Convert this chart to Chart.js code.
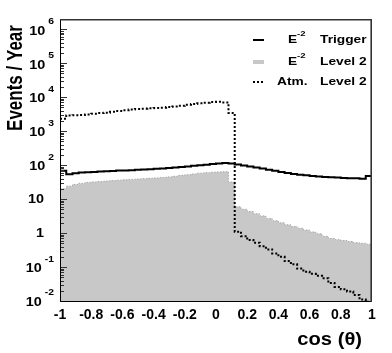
<!DOCTYPE html>
<html>
<head>
<meta charset="utf-8">
<script src="https://cdn.jsdelivr.net/npm/chart.js@4/dist/chart.umd.min.js"></script>
<style>
  html, body { margin: 0; padding: 0; background: #fff; }
  #wrap { width: 392px; height: 353px; }
</style>
</head>
<body>
<div id="wrap"><canvas id="chart" width="392" height="353"></canvas></div>
<script>
// histogram binning: 50 bins over cos(theta) in [-1, 1]
const BIN_LO = -1;
const BIN_W = 0.04;

// E^-2 trigger level (solid black)
const trigger = [68, 54, 58, 61, 62, 63, 65, 66, 67, 69,
                 70, 71, 73, 74, 76, 78, 80, 82, 85, 88,
                 91, 95, 99, 103, 107, 111, 115, 111, 105, 98,
                 91, 85, 79, 73, 68, 63, 59, 55, 52, 50,
                 48, 46, 45, 44, 43, 42, 41, 41, 40, 48];

// E^-2 level 2 (grey fill)
const level2 = [20, 24, 27, 29, 31, 32, 33, 34, 35, 36,
                37, 38, 39, 40, 41, 42, 43, 45, 47, 50,
                52, 55, 58, 60, 62, 63, 64, 32, 5.9, 5.0,
                4.3, 3.7, 3.2, 2.7, 2.3, 2.0, 1.75, 1.55, 1.38, 1.23,
                1.08, 0.95, 0.8, 0.69, 0.64, 0.6, 0.56, 0.52, 0.5, 0.47];

// atmospheric level 2 (dotted black)
const atm = [2300, 2900, 2950, 3000, 3100, 3250, 3400, 3500, 3700, 3900,
             4100, 4300, 4500, 4600, 4700, 4800, 4900, 5100, 5300, 5600,
             6000, 6300, 6600, 6900, 7200, 7300, 7000, 3400, 1.1, 0.81,
             0.62, 0.52, 0.41, 0.33, 0.25, 0.2, 0.15, 0.12, 0.09, 0.073,
             0.063, 0.055, 0.047, 0.034, 0.026, 0.022, 0.019, 0.015, 0.011, 0.0095];

const yExponents = [-2, -1, 0, 1, 2, 3, 4, 5, 6];

const FONT = "'Liberation Sans', Arial, Helvetica, sans-serif";

function histPoints(vals) {
  const pts = vals.map((v, i) => ({ x: BIN_LO + i * BIN_W, y: v }));
  pts.push({ x: BIN_LO + vals.length * BIN_W, y: vals[vals.length - 1] });
  return pts;
}

// text with horizontal stretch (the reference is a bit wide)
function stretchText(ctx, str, x, y, size, align, sx) {
  ctx.save();
  ctx.font = `bold ${size}px ${FONT}`;
  const w = ctx.measureText(str).width * sx;
  let left = x;
  if (align === "right") left = x - w;
  else if (align === "center") left = x - w / 2;
  ctx.translate(left, y);
  ctx.scale(sx, 1);
  ctx.textAlign = "left";
  ctx.textBaseline = "middle";
  ctx.fillText(str, 0, 0);
  ctx.restore();
  return w;
}

const decorations = {
  id: "decorations",
  afterDatasetsDraw(chart) {
    const { ctx, chartArea: a } = chart;
    const ys = chart.scales.y;
    ctx.save();
    ctx.fillStyle = "#000";

    // y ticks inside the frame
    ctx.strokeStyle = "#333";
    ctx.lineWidth = 1;
    yExponents.forEach((e) => {
      for (let m = 1; m <= 9; m++) {
        const v = m * Math.pow(10, e);
        if (v < ys.min || v > ys.max) continue;
        const py = Math.round(ys.getPixelForValue(v)) + 0.5;
        ctx.beginPath();
        ctx.moveTo(a.left, py);
        ctx.lineTo(a.left + (m === 1 ? 7 : 4), py);
        ctx.stroke();
      }
    });

    // frame
    ctx.strokeStyle = "#000";
    ctx.lineWidth = 1;
    ctx.beginPath();
    ctx.moveTo(a.left + 0.5, a.top);
    ctx.lineTo(a.left + 0.5, a.bottom + 0.5);
    ctx.lineTo(a.right, a.bottom + 0.5);
    ctx.stroke();
    ctx.strokeStyle = "#333";
    ctx.lineWidth = 1.6;
    ctx.beginPath();
    ctx.moveTo(a.left, a.top + 0.8);
    ctx.lineTo(a.right - 0.8, a.top + 0.8);
    ctx.lineTo(a.right - 0.8, a.bottom + 1);
    ctx.stroke();

    // y tick labels 10^n
    yExponents.forEach((e) => {
      const py = ys.getPixelForValue(Math.pow(10, e));
      if (e === 0 || e === 1) {
        stretchText(ctx, e === 0 ? "1" : "10", 44, py + 1, 12, "right", 1.2);
        return;
      }
      const ex = String(e);
      ctx.font = `bold 9px ${FONT}`;
      const ew = ctx.measureText(ex).width * 1.15;
      stretchText(ctx, ex, 54, py - 8, 9, "right", 1.15);
      stretchText(ctx, "10", 54 - ew - 3, py + 2, 12, "right", 1.2);
    });

    // axis titles
    ctx.save();
    ctx.translate(16, 78);
    ctx.scale(1.25, 1);
    ctx.rotate(-Math.PI / 2);
    ctx.font = `bold 17px ${FONT}`;
    ctx.textAlign = "center";
    ctx.textBaseline = "middle";
    ctx.fillText("Events / Year", 0, 0);
    ctx.restore();

    stretchText(ctx, "cos (\u03B8)", 362, 340, 18, "right", 1.12);

    // legend
    ctx.strokeStyle = "#000";
    ctx.lineWidth = 2;
    ctx.beginPath();
    ctx.moveTo(253, 40);
    ctx.lineTo(264, 40);
    ctx.stroke();
    ctx.fillStyle = "#c8c8c8";
    ctx.fillRect(253, 60, 11, 4);
    ctx.fillStyle = "#000";
    [254, 258, 262].forEach((dx) => ctx.fillRect(dx - 1, 81, 2, 2));

    const rows = [
      { y: 40, left: null, right: "Trigger" },
      { y: 62, left: null, right: "Level 2" },
      { y: 82, left: "Atm.", right: "Level 2" },
    ];
    rows.forEach((r) => {
      if (r.left) {
        stretchText(ctx, r.left, 277, r.y, 11, "left", 1.25);
      } else {
        stretchText(ctx, "E", 288, r.y, 11, "left", 1.25);
        stretchText(ctx, "-2", 297, r.y - 6, 8, "left", 1.2);
      }
      stretchText(ctx, r.right, 320, r.y, 11, "left", 1.25);
    });

    ctx.restore();
  },
};

new Chart(document.getElementById("chart"), {
  type: "line",
  data: {
    datasets: [
      {
        label: "E-2 Level 2",
        data: histPoints(level2),
        stepped: true,
        fill: "start",
        backgroundColor: "#c8c8c8",
        borderColor: "#a8a8a8",
        borderWidth: 1,
        borderDash: [1.5, 1.5],
        pointRadius: 0,
        order: 3,
      },
      {
        label: "E-2 Trigger",
        data: histPoints(trigger),
        stepped: true,
        fill: false,
        borderColor: "#000",
        borderWidth: 2,
        pointRadius: 0,
        order: 2,
      },
      {
        label: "Atm. Level 2",
        data: histPoints(atm),
        stepped: true,
        fill: false,
        borderColor: "#000",
        borderWidth: 2,
        borderDash: [2, 2],
        pointRadius: 0,
        order: 1,
      },
    ],
  },
  options: {
    responsive: false,
    animation: false,
    devicePixelRatio: 1,
    parsing: true,
    layout: { padding: { top: 19, right: 20, left: 0, bottom: 0 } },
    plugins: { legend: { display: false }, tooltip: { enabled: false } },
    scales: {
      x: {
        type: "linear",
        min: -1,
        max: 1,
        afterFit: (s) => { s.height = 52; },
        grid: { display: false, drawTicks: false },
        border: { display: false },
        ticks: {
          stepSize: 0.2,
          autoSkip: false,
          maxRotation: 0,
          padding: 6,
          color: "#000",
          font: { family: FONT, size: 14, weight: "bold" },
          callback: (v) => {
            const r = Math.round(v * 10) / 10;
            return r === 0 ? "0" : String(r);
          },
        },
      },
      y: {
        type: "logarithmic",
        min: 0.01,
        max: 2e6,
        afterFit: (s) => { s.width = 60; },
        grid: { display: false },
        border: { display: false },
        ticks: { display: false },
      },
    },
  },
  plugins: [decorations],
});
</script>
</body>
</html>
